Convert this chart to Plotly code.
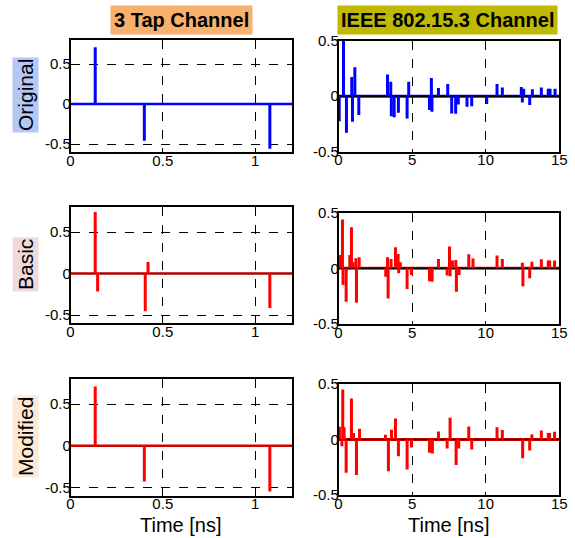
import plotly.graph_objects as go

W, H = 575, 538

# ---------------- data ----------------
tap_orig_t = [0.134, 0.40, 1.08]
tap_orig_v = [0.71, -0.46, -0.56]
tap_basic_t = [0.134, 0.147, 0.405, 0.42, 1.08]
tap_basic_v = [0.744, -0.216, -0.456, 0.14, -0.416]
tap_mod_t = [0.134, 0.40, 1.08]
tap_mod_v = [0.71, -0.43, -0.55]

ieee_orig_t = [0.05, 0.34, 0.54, 0.90, 0.95, 1.11, 1.38, 3.33, 3.55, 3.59, 3.78, 4.07, 4.66, 4.77,
               6.18, 6.31, 6.35, 6.79, 7.42, 7.69, 7.96, 8.14, 8.73, 9.05, 10.07, 10.77, 11.13,
               12.42, 12.49, 12.58, 12.99, 13.17, 13.78, 14.25, 14.37, 14.71]
ieee_orig_v = [-0.225, 0.5, -0.33, 0.174, -0.23, 0.26, -0.17, 0.195, 0.13, -0.18, -0.19, -0.15, -0.2, 0.13,
               -0.125, 0.165, -0.14, 0.073, 0.11, -0.155, -0.157, -0.075, -0.096, -0.09, -0.07, 0.11, 0.078,
               0.084, -0.057, 0.066, -0.08, 0.063, 0.078, 0.066, 0.066, 0.066]

ieee_basic_t = [0.07, 0.27, 0.31, 0.52, 0.77, 0.88, 0.99, 1.18, 1.22, 1.40, 3.21, 3.33, 3.37, 3.57,
                3.87, 3.96, 4.05, 4.09, 4.20, 4.66, 4.95, 6.18, 6.36, 6.79, 7.38, 7.54, 7.58, 7.74,
                7.97, 8.01, 8.19, 8.85, 9.14, 10.77, 11.13, 12.49, 12.53, 12.99, 13.14, 13.78,
                14.25, 14.34, 14.68]
ieee_basic_v = [0.12, 0.44, -0.15, -0.3, 0.12, 0.37, 0.055, 0.09, -0.31, 0.1, -0.076, 0.1, -0.27, 0.085,
                0.19, 0.05, 0.13, -0.045, 0.055, -0.185, -0.06, -0.115, -0.12, 0.085, -0.064, 0.197, -0.07, 0.07,
                0.076, -0.21, -0.06, 0.127, 0.088, 0.115, 0.085, 0.05, -0.16, -0.09, 0.06, 0.082,
                0.07, 0.07, 0.07]

ieee_mod_t = [0.07, 0.23, 0.29, 0.38, 0.52, 0.88, 1.02, 1.22, 1.43, 3.19, 3.39, 3.60, 3.87, 4.07,
              4.66, 4.95, 6.18, 6.38, 6.79, 7.38, 7.58, 7.99, 8.17, 8.85, 9.05, 10.77, 11.13,
              12.51, 12.99, 13.14, 13.78, 14.25, 14.34, 14.68]
ieee_mod_v = [0.115, -0.06, 0.45, 0.11, -0.3, 0.37, 0.058, -0.32, 0.097, 0.042, -0.285, 0.088, 0.19, -0.15,
              -0.27, -0.073, -0.12, -0.127, 0.073, -0.08, 0.195, -0.23, -0.08, 0.118, -0.09, 0.11, 0.085,
              -0.17, -0.1, 0.045, 0.082, 0.058, 0.058, 0.07]

col_titles = ["3 Tap Channel", "IEEE 802.15.3 Channel"]
row_titles = ["Original", "Basic", "Modified"]
x_label = "Time [ns]"

tap_range_x = [0, 1.2]
tap_range_y = [-0.6, 0.8]
tap_ticks_x = [0, 0.5, 1]
tap_ticks_x_text = ["0", "0.5", "1"]
ieee_range_x = [0, 15]
ieee_range_y = [-0.5, 0.5]
ieee_ticks_x = [0, 5, 10, 15]
y_ticks = [-0.5, 0, 0.5]
y_ticks_text = ["-0.5", "0", "0.5"]

# ---------------- layout geometry (pixels) ----------------
FONT = "Liberation Sans, Arial, sans-serif"
BLUE = "#0000FF"
RED = "#FF0000"

def xd(a, b):
    return [a / W, b / W]

def yd(top, bot):
    return [1 - bot / H, 1 - top / H]

left_x = xd(70.5, 292)
right_x = xd(338.5, 559.3)
left_rows = [yd(40, 152), yd(207.3, 323.3), yd(379, 495.7)]
right_rows = [yd(40.7, 151.7), yd(212.7, 324), yd(384, 495)]

panels = [
    (tap_orig_t, tap_orig_v, BLUE, 0, True),
    (ieee_orig_t, ieee_orig_v, BLUE, 0, False),
    (tap_basic_t, tap_basic_v, RED, 1, True),
    (ieee_basic_t, ieee_basic_v, RED, 1, False),
    (tap_mod_t, tap_mod_v, RED, 2, True),
    (ieee_mod_t, ieee_mod_v, RED, 2, False),
]

fig = go.Figure()
layout = dict(
    width=W, height=H,
    margin=dict(l=0, r=0, t=0, b=0, pad=0),
    paper_bgcolor="white", plot_bgcolor="white",
    showlegend=False,
    font=dict(family=FONT, size=15, color="black"),
)

def stems(t, v):
    xs, ys = [], []
    for ti, vi in zip(t, v):
        xs += [ti, ti, None]
        ys += [0, vi, None]
    return xs, ys

for i, (t, v, color, row, is_tap) in enumerate(panels):
    n = i + 1
    xa = "x" if n == 1 else f"x{n}"
    ya = "y" if n == 1 else f"y{n}"
    xr = tap_range_x if is_tap else ieee_range_x
    yr = tap_range_y if is_tap else ieee_range_y

    if not is_tap:
        fig.add_trace(go.Scatter(x=xr, y=[0, 0], mode="lines", line=dict(color=color, width=3),
                                 xaxis=xa, yaxis=ya, hoverinfo="skip"))
        fig.add_trace(go.Scatter(x=xr, y=[0, 0], mode="lines", line=dict(color="black", width=1.5),
                                 xaxis=xa, yaxis=ya, hoverinfo="skip"))
    else:
        bc = color if row == 0 else ("#B00000" if row == 1 else "#D00000")
        fig.add_trace(go.Scatter(x=[xr[0], xr[1] * 1.005], y=[0, 0], mode="lines",
                                 line=dict(color=bc, width=2.5), cliponaxis=False,
                                 xaxis=xa, yaxis=ya, hoverinfo="skip"))
    xs, ys = stems(t, v)
    fig.add_trace(go.Scatter(x=xs, y=ys, mode="lines", line=dict(color=color, width=3),
                             xaxis=xa, yaxis=ya, hoverinfo="skip"))

    axcommon = dict(showline=True, mirror=True, linecolor="black", linewidth=1.5,
                    showgrid=True, gridcolor="black", griddash="dash", gridwidth=1,
                    zeroline=False, ticks="", automargin=False,
                    tickfont=dict(family=FONT, size=15, color="black"))
    xkey = "xaxis" if n == 1 else f"xaxis{n}"
    ykey = "yaxis" if n == 1 else f"yaxis{n}"
    if is_tap:
        layout[xkey] = dict(domain=left_x, range=xr, anchor=ya, tickmode="array",
                            tickvals=tap_ticks_x, ticktext=tap_ticks_x_text,
                            ticklabelstandoff=-6, **axcommon)
        layout[ykey] = dict(domain=left_rows[row], range=yr, anchor=xa, tickmode="array",
                            tickvals=y_ticks, ticktext=y_ticks_text,
                            ticklabelstandoff=-5, **axcommon)
    else:
        layout[xkey] = dict(domain=right_x, range=xr, anchor=ya, tickmode="array",
                            tickvals=ieee_ticks_x, ticktext=[str(k) for k in ieee_ticks_x],
                            ticklabelstandoff=-6, **axcommon)
        layout[ykey] = dict(domain=right_rows[row], range=yr, anchor=xa, tickmode="array",
                            tickvals=y_ticks, ticktext=y_ticks_text,
                            ticklabelstandoff=-5, **axcommon)

fig.update_layout(**layout)

annotations = []
annotations.append(dict(text="<b>" + col_titles[0] + "</b>", x=181 / W, y=1 - 20 / H,
                        xref="paper", yref="paper", showarrow=False, xanchor="center", yanchor="middle",
                        font=dict(family=FONT, size=20, color="black"), bgcolor="#F9B06C",
                        borderpad=3))
annotations.append(dict(text="<b>" + col_titles[1] + "</b>", x=447 / W, y=1 - 20 / H,
                        xref="paper", yref="paper", showarrow=False, xanchor="center", yanchor="middle",
                        font=dict(family=FONT, size=20, color="black"), bgcolor="#BFBA00",
                        borderpad=3))
row_centers = [(26, 95), (25, 265), (25, 437)]
row_bg = ["#B4C8F6", "#EDDADA", "#FCEAD4"]
for (cx, cy), txt, bg in zip(row_centers, row_titles, row_bg):
    annotations.append(dict(text=txt, x=cx / W, y=1 - cy / H, xref="paper", yref="paper",
                            showarrow=False, textangle=-90, xanchor="center", yanchor="middle",
                            font=dict(family=FONT, size=21, color="black"), bgcolor=bg, borderpad=1))
for cx in (181, 449):
    annotations.append(dict(text=x_label, x=cx / W, y=1 - 525 / H, xref="paper", yref="paper",
                            showarrow=False, xanchor="center", yanchor="middle",
                            font=dict(family=FONT, size=20, color="black")))
fig.update_layout(annotations=annotations)

fig.write_html("out.html", config={"displayModeBar": False},
               post_script="document.body.style.margin='0';document.body.style.overflow='hidden';")
